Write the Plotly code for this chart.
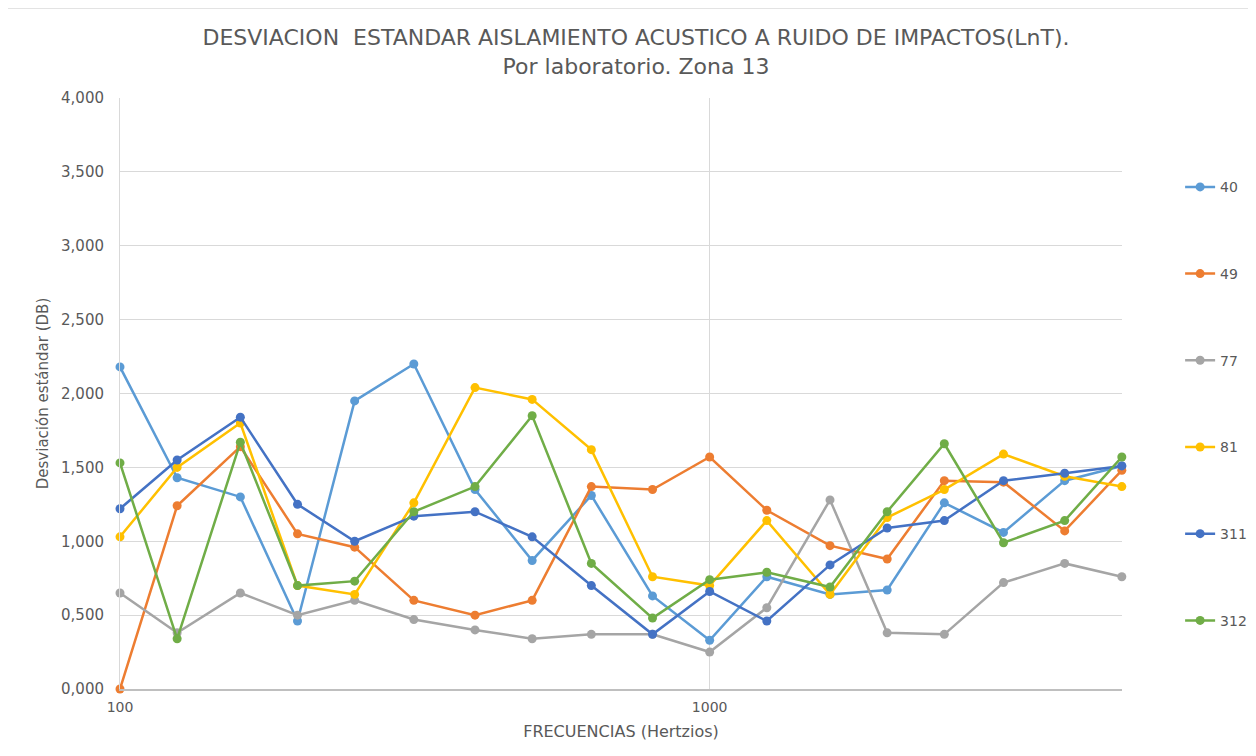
import math
import plotly.graph_objects as go

freqs = [100, 125, 160, 200, 250, 315, 400, 500, 630, 800, 1000, 1250, 1600, 2000, 2500, 3150, 4000, 5000]

s40 = [2.18, 1.43, 1.30, 0.46, 1.95, 2.20, 1.35, 0.87, 1.31, 0.63, 0.33, 0.76, 0.64, 0.67, 1.26, 1.06, 1.41, 1.51]
s49 = [0.00, 1.24, 1.64, 1.05, 0.96, 0.60, 0.50, 0.60, 1.37, 1.35, 1.57, 1.21, 0.97, 0.88, 1.41, 1.40, 1.07, 1.48]
s77 = [0.65, 0.38, 0.65, 0.50, 0.60, 0.47, 0.40, 0.34, 0.37, 0.37, 0.25, 0.55, 1.28, 0.38, 0.37, 0.72, 0.85, 0.76]
s81 = [1.03, 1.50, 1.80, 0.70, 0.64, 1.26, 2.04, 1.96, 1.62, 0.76, 0.70, 1.14, 0.64, 1.16, 1.35, 1.59, 1.44, 1.37]
s311 = [1.22, 1.55, 1.84, 1.25, 1.00, 1.17, 1.20, 1.03, 0.70, 0.37, 0.66, 0.46, 0.84, 1.09, 1.14, 1.41, 1.46, 1.51]
s312 = [1.53, 0.34, 1.67, 0.70, 0.73, 1.20, 1.37, 1.85, 0.85, 0.48, 0.74, 0.79, 0.69, 1.20, 1.66, 0.99, 1.14, 1.57]

series_names = ["40", "49", "77", "81", "311", "312"]
series_values = [s40, s49, s77, s81, s311, s312]
colors = ["#5B9BD5", "#ED7D31", "#A5A5A5", "#FFC000", "#4472C4", "#70AD47"]

y_tickvals = [0, 0.5, 1.0, 1.5, 2.0, 2.5, 3.0, 3.5, 4.0]
y_ticktext = ["0,000", "0,500", "1,000", "1,500", "2,000", "2,500", "3,000", "3,500", "4,000"]
x_tickvals = [100, 1000]
x_ticktext = ["100", "1000"]

fig = go.Figure()
for name, vals, col in zip(series_names, series_values, colors):
    fig.add_trace(go.Scatter(
        x=freqs, y=vals, name=name, mode="lines+markers",
        line=dict(color=col, width=2.5),
        marker=dict(color=col, size=9),
        legendgroup=name, cliponaxis=False,
    ))

font_family = "DejaVu Sans, Open Sans, sans-serif"
fig.update_layout(
    width=1256, height=756,
    margin=dict(l=112, r=142, t=90, b=75),
    paper_bgcolor="white", plot_bgcolor="white",
    title=dict(
        text="DESVIACION  ESTANDAR AISLAMIENTO ACUSTICO A RUIDO DE IMPACTOS(LnT).<br>Por laboratorio. Zona 13",
        x=0.5, xanchor="center", y=0.951, yanchor="top",
        font=dict(family=font_family, size=22, color="#595959"),
    ),
    font=dict(family=font_family, color="#595959"),
    legend=dict(
        x=1.058, xanchor="left", y=0.876, yanchor="top",
        tracegroupgap=65.5,
        font=dict(size=14, color="#595959"),
        bgcolor="rgba(0,0,0,0)",
    ),
    showlegend=True,
)
fig.update_xaxes(
    type="log", range=[2, math.log10(5000) + 0.0003],
    tickvals=x_tickvals, ticktext=x_ticktext,
    showgrid=True, gridcolor="#D9D9D9", gridwidth=1,
    showline=True, linecolor="#BFBFBF", linewidth=1.5,
    zeroline=False, ticks="", ticklabelstandoff=4,
    tickfont=dict(size=14, color="#595959"),
    title=dict(text="FRECUENCIAS (Hertzios)", font=dict(size=16, color="#595959"), standoff=12),
)
fig.update_yaxes(
    range=[0, 4.0],
    tickvals=y_tickvals, ticktext=y_ticktext,
    showgrid=True, gridcolor="#D9D9D9", gridwidth=1,
    showline=True, linecolor="#D9D9D9", linewidth=1,
    zeroline=False, ticks="", ticklabelstandoff=12,
    tickfont=dict(size=15, color="#595959"),
    title=dict(text="Desviación estándar (DB)", font=dict(size=15, color="#595959"), standoff=8),
)
# chart-area border (top and left edges)
fig.add_shape(type="line", xref="paper", yref="paper", x0=-0.1138, x1=1.15, y0=1.1523, y1=1.1523,
              line=dict(color="#E3E3E3", width=2))
fig.add_shape(type="line", xref="paper", yref="paper", x0=-0.1138, x1=-0.1138, y0=-0.13, y1=1.1523,
              line=dict(color="#E3E3E3", width=2))

fig.write_html("out.html")
